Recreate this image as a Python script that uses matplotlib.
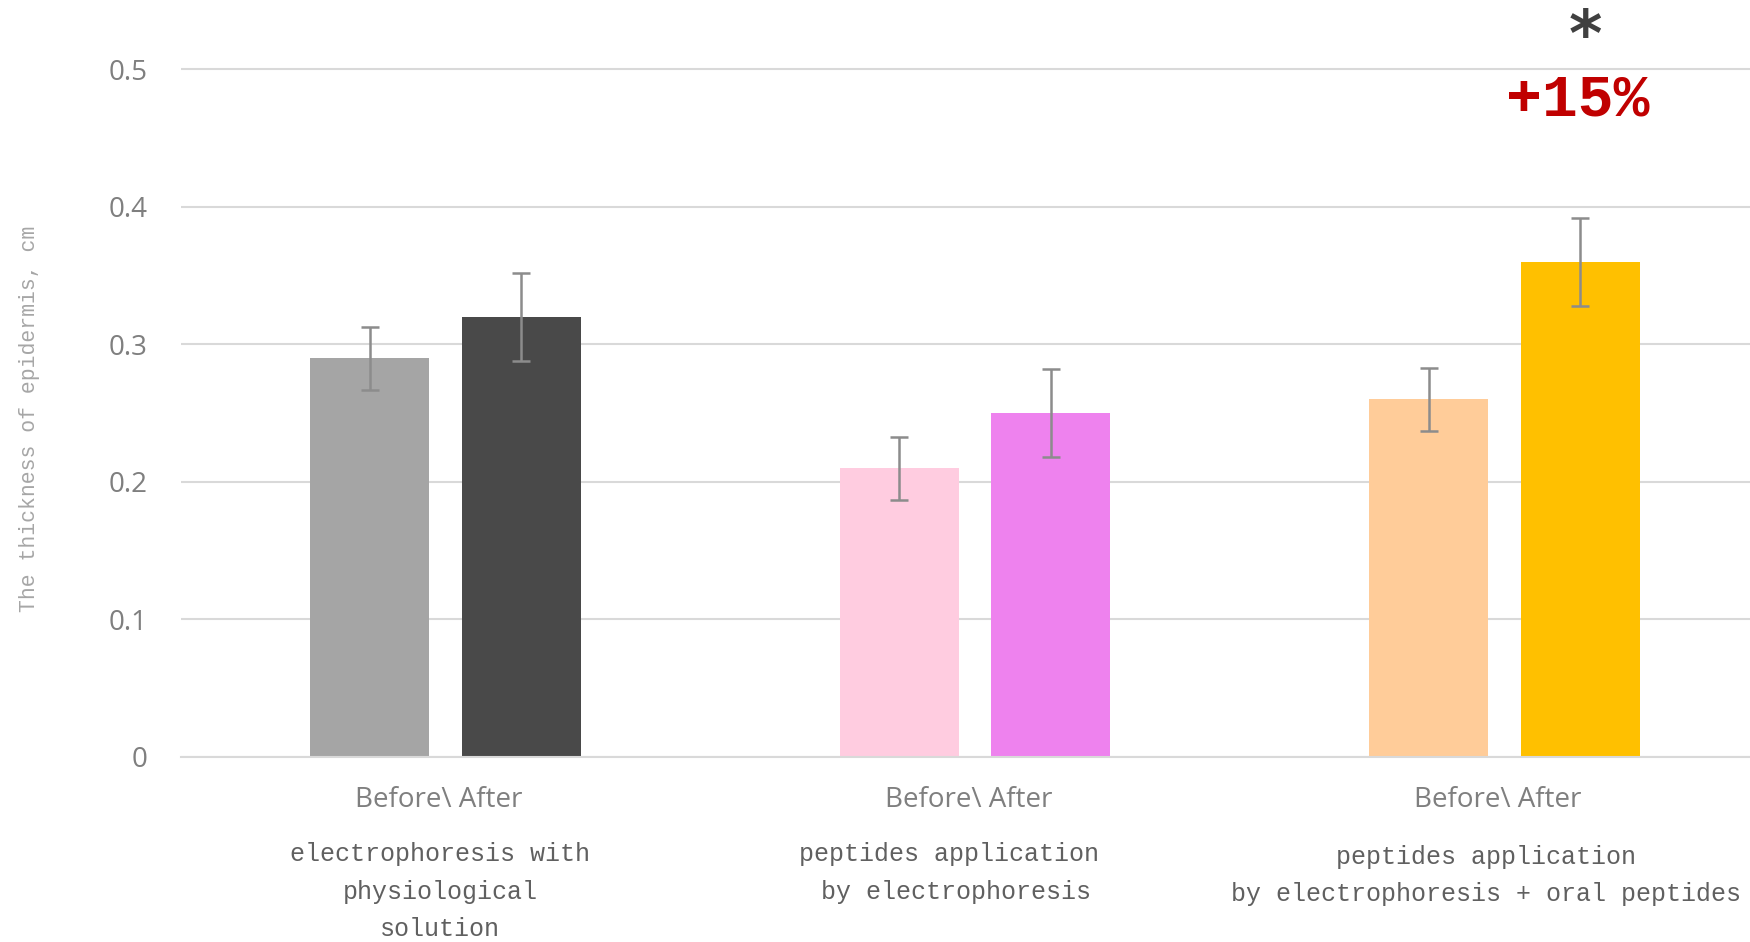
import matplotlib
matplotlib.use("Agg")
import matplotlib.pyplot as plt
import matplotlib.transforms as mtransforms
import numpy as np

# ---- data ----
categories = ["electrophoresis with\nphysiological\nsolution",
              "peptides application\n by electrophoresis",
              "peptides application\nby electrophoresis + oral peptides"]
tick_label = "Before\\ After"
before = [0.29, 0.21, 0.26]
after = [0.32, 0.25, 0.36]
before_err = [0.023, 0.023, 0.023]
after_err = [0.032, 0.032, 0.032]
before_colors = ["#A5A5A5", "#FFCCE0", "#FFCC99"]
after_colors = ["#494949", "#EE82EE", "#FFC000"]
yticks = [0, 0.1, 0.2, 0.3, 0.4, 0.5]
ytick_labels = ["0", "0.1", "0.2", "0.3", "0.4", "0.5"]
annot_pct = "+15%"
annot_star = "*"

fig = plt.figure(figsize=(17.5, 9.42), dpi=100)
ax = fig.add_axes([0.1034, 0.1964, 0.8966, 0.803])

x = np.arange(len(categories))
w = 0.225
off = 0.143
ax.bar(x - off, before, width=w, color=before_colors, zorder=2)
ax.bar(x + off, after, width=w, color=after_colors, zorder=2)
ax.errorbar(x - off, before, yerr=before_err, fmt="none", ecolor="#8C8C8C",
            elinewidth=1.8, capsize=6.5, capthick=1.8, zorder=3)
ax.errorbar(x + off, after, yerr=after_err, fmt="none", ecolor="#8C8C8C",
            elinewidth=1.8, capsize=6.5, capthick=1.8, zorder=3)

ax.set_xlim(-0.5, 2.464)
ax.set_ylim(0, 0.55)
ax.set_yticks(yticks)
ax.set_yticklabels(ytick_labels, fontfamily="Open Sans", fontsize=20, color="#7F7F7F")
ax.tick_params(axis="y", length=0, pad=24)
ax.yaxis.grid(True, color="#D9D9D9", linewidth=1.5, zorder=0)
ax.set_axisbelow(True)
for s in ["left", "right", "top"]:
    ax.spines[s].set_visible(False)
ax.spines["bottom"].set_color("#D9D9D9")
ax.spines["bottom"].set_linewidth(1.5)

ax.set_xticks(x)
ax.set_xticklabels([tick_label] * 3, fontfamily="Open Sans", fontsize=20, color="#7F7F7F")
ax.tick_params(axis="x", length=0, pad=21)
shift = mtransforms.ScaledTranslation(-0.067, 0, fig.dpi_scale_trans)
for lab in ax.get_xticklabels():
    lab.set_transform(lab.get_transform() + shift)

cat_y = [-0.062, -0.062, -0.064]
cat_x = [-0.01, -0.05, -0.035]
for i, c in enumerate(categories):
    ax.text(x[i] + cat_x[i], cat_y[i], c, ha="center", va="top",
            fontfamily="Liberation Mono", fontsize=18, color="#606060",
            linespacing=1.7, clip_on=False)

ax.text(-0.786, 0.246, "The thickness of epidermis, cm", rotation=90,
        ha="center", va="center", fontfamily="Liberation Mono", fontsize=15.5,
        color="#A6A6A6", clip_on=False)

ax.text(x[2] + off + 0.01, 0.523, annot_star, ha="center", va="center",
        fontfamily="DejaVu Sans", fontsize=46, fontweight="bold", color="#404040",
        clip_on=False)
ax.text(x[2] + off - 0.005, 0.478, annot_pct, ha="center", va="center",
        fontfamily="Liberation Mono", fontsize=43, fontweight="bold", color="#C00000",
        clip_on=False)

fig.savefig("out.png", dpi=100)
